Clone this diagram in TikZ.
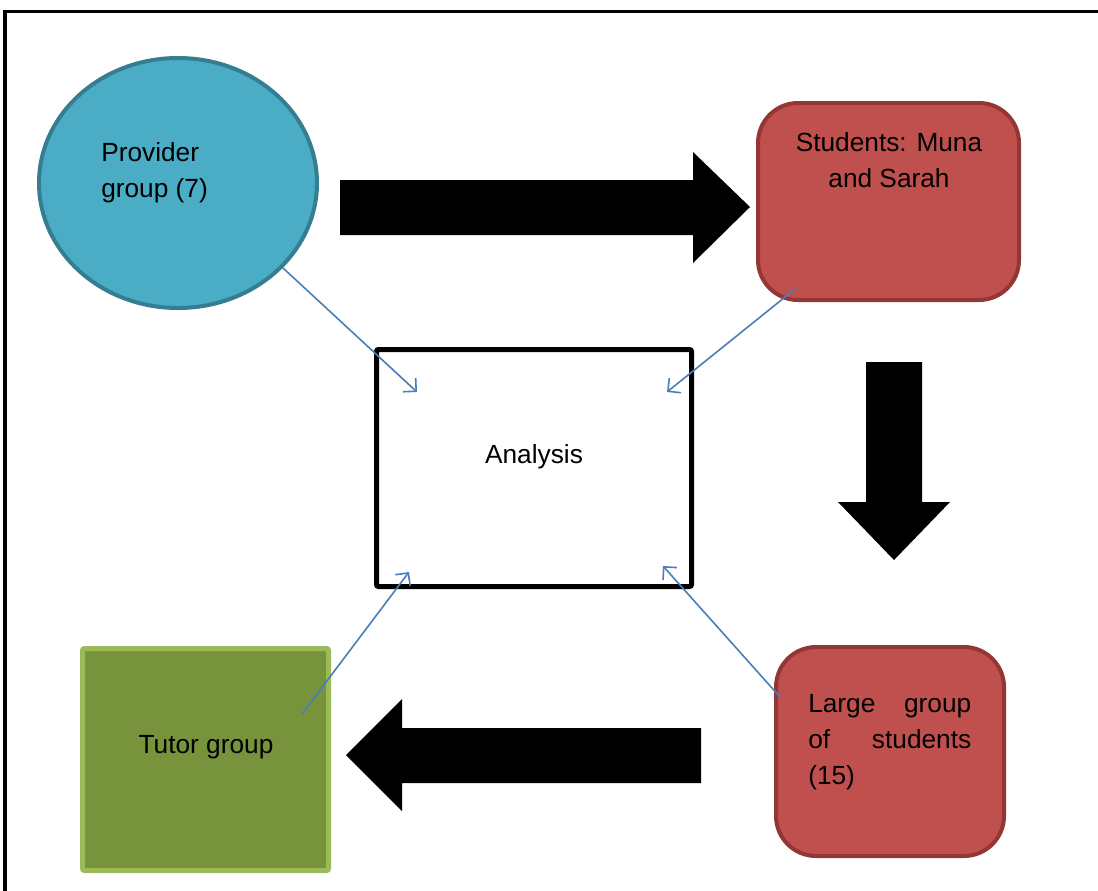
\documentclass[tikz,border=0pt]{standalone}
\usepackage{fontspec}
\setmainfont{Liberation Sans}
\usetikzlibrary{shapes.geometric,arrows.meta}
\definecolor{provfill}{RGB}{75,172,198}
\definecolor{provdraw}{RGB}{53,125,145}
\definecolor{redfill}{RGB}{192,80,77}
\definecolor{reddraw}{RGB}{148,54,52}
\definecolor{greenfill}{RGB}{119,147,60}
\definecolor{greendraw}{RGB}{155,187,89}
\definecolor{linkblue}{RGB}{74,126,187}
\tikzset{
  lbl/.style={font=\fontsize{19.7}{27}\selectfont, text=black, inner sep=0pt},
  provstyle/.style={ellipse, fill=provfill, draw=provdraw, line width=3pt, minimum width=208.5pt, minimum height=187.5pt, inner sep=0pt},
  redbox/.style={rectangle, rounded corners=30pt, fill=redfill, draw=reddraw, line width=3pt, inner sep=0pt},
  anbox/.style={rectangle, draw=black, line width=3.75pt, rounded corners=1.5pt, minimum width=236.25pt, minimum height=177.75pt, inner sep=0pt},
  tutorbox/.style={rectangle, fill=greenfill, draw=greendraw, line width=3.75pt, rounded corners=1.5pt, minimum width=184.5pt, minimum height=166.5pt, inner sep=0pt},
  link/.style={draw=linkblue, line width=1.2pt, -{Straight Barb[length=7pt,width=14pt,line width=1.2pt]}},
  blockarrow/.style={fill=black}
}
\begin{document}
\begin{tikzpicture}[x=0.75pt,y=-0.75pt]
\useasboundingbox (0,0) rectangle (1098,890);
\fill[white] (0,0) rectangle (1098,890);
% outer frame
\draw[line width=2.5pt, line join=miter] (1110,11.5) -- (5,11.5) -- (5,900);

% nodes
\node[provstyle] (prov) at (178,183) {};
\node[lbl, anchor=west, align=left] (provt) at (101,173) {Provider\\group (7)};

\node[redbox, minimum width=195.75pt, minimum height=147.75pt] (stud) at (888.5,201.5) {};
\node[lbl, align=center] (studt) at (889,160) {Students: Muna\\and Sarah};

\node[anbox] (an) at (534,468) {};
\node[lbl] (ant) at (534,457) {Analysis};

\node[tutorbox] (tutor) at (205.5,759.5) {};
\node[lbl] (tutt) at (206,747) {Tutor group};

\node[redbox, minimum width=171pt, minimum height=156.75pt] (large) at (890,751.5) {};
\node[lbl, anchor=west, align=left] (larget) at (808,742)
  {\hbox to 122.25pt{Large\hfill group}\\\hbox to 122.25pt{of\hfill students}\\(15)};

% block arrows
\fill[blockarrow] (340,180) -- (693,180) -- (693,152) -- (750,207) -- (693,263) -- (693,235) -- (340,235) -- cycle;
\fill[blockarrow] (866,362) -- (922,362) -- (922,502) -- (950,502) -- (894,560) -- (838,502) -- (866,502) -- cycle;
\fill[blockarrow] (701,728) -- (402,728) -- (402,699) -- (346,755) -- (402,811) -- (402,783) -- (701,783) -- cycle;

% connector end points
\coordinate (p1s) at (283,268);
\coordinate (p1e) at (417,392);
\coordinate (p2s) at (795,289);
\coordinate (p2e) at (667,392);
\coordinate (p3s) at (302,714);
\coordinate (p3e) at (409,572);
\coordinate (p4s) at (780,697);
\coordinate (p4e) at (663,566);

\draw[link] (p1s) -- (p1e);
\draw[link] (p2s) -- (p2e);
\draw[link] (p3s) -- (p3e);
\draw[link] (p4s) -- (p4e);
\end{tikzpicture}
\end{document}
